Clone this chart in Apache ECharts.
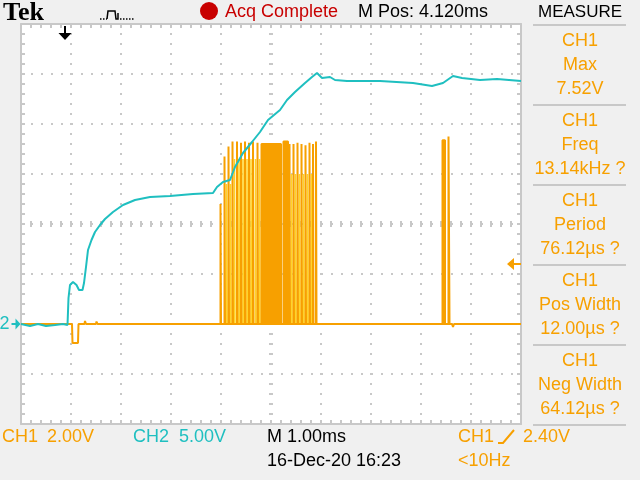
<!DOCTYPE html>
<html>
<head>
<meta charset="utf-8">
<script src="https://cdn.jsdelivr.net/npm/echarts@6/dist/echarts.min.js"></script>
<style>
  html, body { margin: 0; padding: 0; background: #f0f0f0; }
  #chart { width: 640px; height: 480px; }
</style>
</head>
<body>
<div id="chart"></div>
<script>
// time: ms from the left edge of the screen (1.00 ms/div, 10 div)
// CH1: volts (2.00 V/div), CH2: volts (5.00 V/div), both grounds 2 div above the bottom

// CH2 (cyan) supply trace
const ch2Time = [0.00, 0.18, 0.34, 0.50, 0.68, 0.84, 0.93, 0.95, 0.98, 1.04, 1.11, 1.16, 1.23, 1.26, 1.30, 1.34, 1.41, 1.48,
  1.58, 1.68, 1.84, 2.04, 2.28, 2.58, 2.98, 3.44, 3.84, 3.92, 4.04, 4.18, 4.28, 4.44, 4.62, 4.78, 4.94, 5.18, 5.32,
  5.48, 5.68, 5.82, 5.92, 6.02, 6.18, 6.28, 6.52, 7.18, 7.84, 8.22, 8.44, 8.64, 8.82, 9.18, 9.52, 10.00]
const ch2Volt = [0.0, -0.2, 0.0, -0.2, -0.1, 0.0, -0.1, 2.6, 3.9, 4.2, 3.9, 3.4, 3.4, 4.1, 5.7, 7.4, 8.4, 9.2,
  9.9, 10.5, 11.2, 11.9, 12.4, 12.7, 12.8, 13.0, 13.1, 13.7, 14.2, 14.4, 15.7, 17.1, 18.2, 19.2, 20.4, 21.4, 22.4,
  23.2, 24.1, 24.7, 25.1, 24.6, 24.7, 24.4, 24.3, 24.3, 24.1, 23.8, 24.1, 24.8, 24.6, 24.4, 24.5, 24.3]

// CH1 (orange) idle level with the small glitch after power up
const ch1Time = [0, 1.02, 1.03, 1.14, 1.15, 1.27, 1.28, 1.30, 1.50, 1.51, 1.53, 8.62, 8.64, 8.66, 10]
const ch1Volt = [0, 0, -0.76, -0.76, 0, 0, 0.12, 0, 0, 0.1, 0, 0, -0.12, 0, 0]

// CH1 pulse burst: start (ms), width (ms), top (V)
const burstStart = [3.99, 4.07, 4.15, 4.23, 4.32, 4.40, 4.48, 4.56, 4.64, 4.73, 4.81, 5.25,
  5.37, 5.45, 5.53, 5.61, 5.69, 5.77, 5.84, 5.90, 8.43, 8.55]
const burstWidth = [0.01, 0.01, 0.01, 0.01, 0.01, 0.01, 0.01, 0.01, 0.01, 0.01, 0.39, 0.09,
  0.01, 0.01, 0.01, 0.01, 0.01, 0.01, 0.01, 0.01, 0.05, 0.02]
const burstTop = [4.8, 6.7, 7.1, 7.3, 7.3, 7.25, 7.3, 7.25, 7.3, 7.25, 7.2, 7.3,
  7.2, 7.2, 7.25, 7.2, 7.15, 7.25, 7.2, 7.3, 7.35, 7.5]

// dimmer (aliased) CH1 pulses drawn in yellow between the bright ones
const aliasStart = [4.11, 4.19, 4.27, 4.36, 4.44, 4.52, 4.60, 4.69, 4.77, 5.41, 5.49, 5.57, 5.65, 5.73, 5.81]
const aliasTop = [5.6, 5.6, 6.6, 6.6, 6.6, 6.6, 6.6, 6.6, 6.6, 6.0, 6.0, 6.0, 6.0, 6.0, 6.0]
const aliasWidth = 0.01

const trigPos = 0.88   // ms
const trigLevel = 2.40 // V

const measureNames = ['Max', 'Freq', 'Period', 'Pos Width', 'Neg Width']
const measureValues = ['7.52V', '13.14kHz ?', '76.12µs ?', '12.00µs ?', '64.12µs ?']

const ORANGE = '#f7a000'
const YELLOW = '#ffd428'
const CYAN = '#1fbfc0'
const RED = '#c80000'
const GRID = '#c8c8c8'
const FONT = "'Liberation Sans', Arial, sans-serif"

function pulses(start, width, top) {
  const out = []
  start.forEach((t, i) => {
    const w = Array.isArray(width) ? width[i] : width
    out.push([t, 0], [t, top[i]], [t + w, top[i]], [t + w, 0])
  })
  return out
}

const tick = { color: GRID, width: 2 }
function frameAxis(pos, extra) {
  return Object.assign({
    type: 'value',
    position: pos,
    axisLine: { onZero: false, lineStyle: { color: GRID, width: 2 } },
    axisTick: { inside: true, length: 4, lineStyle: tick },
    minorTick: { show: true, splitNumber: 5, length: 4, lineStyle: tick },
    axisLabel: { show: false },
    splitLine: { show: false },
    axisPointer: { show: false },
  }, extra)
}
function centerAxis(pos, inside, len, extra) {
  return Object.assign({
    type: 'value',
    position: pos,
    axisLine: { onZero: true, onZeroAxisIndex: 2, lineStyle: { color: 'rgba(0,0,0,0)' } },
    axisTick: { inside, length: len, lineStyle: tick },
    minorTick: { show: true, splitNumber: 5, length: len, lineStyle: tick },
    axisLabel: { show: false },
    splitLine: { show: false },
    axisPointer: { show: false },
  }, extra)
}

function txt(text, x, y, fill, size, extra) {
  return {
    type: 'text', x, y, silent: true,
    style: Object.assign({
      text, fill, fontSize: size || 18, fontFamily: FONT,
      align: 'left', verticalAlign: 'middle', textAlign: 'left', textVerticalAlign: 'middle',
    }, extra || {}),
  }
}
function hline(x1, x2, y, color) {
  return { type: 'line', silent: true, shape: { x1, y1: y, x2, y2: y }, style: { stroke: color || GRID, lineWidth: 2 } }
}

const graphics = [
  // header
  txt('Tek', 3, 13, '#000', 26, { fontFamily: "'Liberation Serif', 'Times New Roman', serif", fontWeight: 'bold' }),
  { type: 'polyline', silent: true, shape: { points: [[100, 19], [107, 19]] }, style: { stroke: '#000', lineWidth: 1.5, lineDash: [1.5, 1.5], fill: null } },
  { type: 'polyline', silent: true, shape: { points: [[107, 19], [108, 11], [115, 11], [116, 19], [118, 19], [118, 13]] }, style: { stroke: '#000', lineWidth: 1.5, fill: null } },
  { type: 'polyline', silent: true, shape: { points: [[120, 19], [135, 19]] }, style: { stroke: '#000', lineWidth: 1.5, lineDash: [1.5, 1.5], fill: null } },
  { type: 'circle', silent: true, shape: { cx: 209, cy: 11, r: 9 }, style: { fill: RED } },
  txt('Acq Complete', 225, 12.5, RED),
  txt('M Pos: 4.120ms', 358, 12.5, '#000'),
  txt('MEASURE', 580, 12.5, '#000', 17, { align: 'center', textAlign: 'center' }),
  hline(533, 626, 25),
  // footer
  txt('CH1', 2, 437, ORANGE), txt('2.00V', 47, 437, ORANGE),
  txt('CH2', 133, 437, CYAN), txt('5.00V', 179, 437, CYAN),
  txt('M 1.00ms', 267, 437, '#000'),
  txt('16-Dec-20 16:23', 267, 461, '#000'),
  txt('CH1', 458, 437, ORANGE),
  { type: 'polyline', silent: true, shape: { points: [[498, 443], [503, 443], [514, 430]] }, style: { stroke: ORANGE, lineWidth: 2, fill: null } },
  txt('2.40V', 523, 437, ORANGE),
  txt('<10Hz', 458, 461, ORANGE),
]
// measurement panel
measureNames.forEach((name, i) => {
  const y0 = 41 + i * 80
  const c = { align: 'center', textAlign: 'center' }
  graphics.push(txt('CH1', 580, y0, ORANGE, 18, c))
  graphics.push(txt(name, 580, y0 + 24, ORANGE, 18, c))
  graphics.push(txt(measureValues[i], 580, y0 + 48, ORANGE, 18, c))
  graphics.push(hline(533, 626, 105 + i * 80))
})

const chart = echarts.init(document.getElementById('chart'))
chart.setOption({
  animation: false,
  backgroundColor: '#f0f0f0',
  grid: {
    left: 21, top: 24, width: 500, height: 400,
    show: true, backgroundColor: '#ffffff', borderWidth: 0,
    containLabel: false, outerBoundsMode: 'none',
  },
  xAxis: [
    frameAxis('bottom', {
      min: 0, max: 10, interval: 1,
      splitLine: { show: true, lineStyle: { color: GRID, width: 2, type: [2, 8], dashOffset: 1 } },
    }),
    frameAxis('top', { min: 0, max: 10, interval: 1 }),
    { type: 'value', min: -5, max: 5, show: false },
    centerAxis('bottom', true, 3, { min: 0, max: 10, interval: 1 }),
    centerAxis('bottom', false, 3, { min: 0, max: 10, interval: 1 }),
  ],
  yAxis: [
    frameAxis('left', {
      min: -4, max: 12, interval: 2,
      splitLine: { show: true, lineStyle: { color: GRID, width: 2, type: [2, 8], dashOffset: 0 } },
    }),
    { type: 'value', min: -10, max: 30, show: false },
    { type: 'value', min: -4, max: 4, show: false },
    frameAxis('right', { min: -4, max: 12, interval: 2 }),
    centerAxis('left', true, 2, { min: -4, max: 12, interval: 2 }),
    centerAxis('left', false, 2, { min: -4, max: 12, interval: 2 }),
  ],
  series: [
    {
      name: 'CH1 alias', type: 'line', xAxisIndex: 0, yAxisIndex: 0, z: 2, silent: true,
      symbol: 'none', data: pulses(aliasStart, aliasWidth, aliasTop),
      lineStyle: { color: YELLOW, width: 1.5 },
    },
    {
      name: 'CH1', type: 'line', xAxisIndex: 0, yAxisIndex: 0, z: 3, silent: true,
      symbol: 'none', data: ch1Time.map((t, i) => [t, ch1Volt[i]]),
      lineStyle: { color: ORANGE, width: 2 },
    },
    {
      name: 'CH1 burst', type: 'line', xAxisIndex: 0, yAxisIndex: 0, z: 3, silent: true,
      symbol: 'none', data: pulses(burstStart, burstWidth, burstTop),
      lineStyle: { color: ORANGE, width: 2 },
      areaStyle: { color: ORANGE, opacity: 1, origin: 'auto' },
      markPoint: {
        silent: true,
        data: [
          {
            coord: [trigPos, 12], symbol: 'path://M5.5,0 L7.5,0 L7.5,7 L13,7 L6.5,14 L0,7 L5.5,7 Z',
            symbolSize: [13, 14], symbolOffset: [0, 9], symbolKeepAspect: false,
            itemStyle: { color: '#000' }, label: { show: false },
          },
          {
            coord: [10, trigLevel], symbol: 'path://M0,6 L7,0 L7,5 L14,5 L14,7 L7,7 L7,12 Z',
            symbolSize: [14, 12], symbolOffset: [-7, 0], symbolKeepAspect: false,
            itemStyle: { color: ORANGE }, label: { show: false },
          },
        ],
      },
    },
    {
      name: 'CH2', type: 'line', xAxisIndex: 0, yAxisIndex: 1, z: 4, silent: true,
      symbol: 'none', data: ch2Time.map((t, i) => [t, ch2Volt[i]]),
      lineStyle: { color: CYAN, width: 2 },
      markPoint: {
        silent: true,
        data: [{
          coord: [0, 0], symbol: 'path://M0,4.5 L4,4.5 L4,0 L9,5.5 L4,11 L4,6.5 L0,6.5 Z',
          symbolSize: [9, 11], symbolOffset: [-5, 0], symbolKeepAspect: false,
          itemStyle: { color: CYAN },
          label: { show: true, position: 'left', distance: 2, formatter: '2', color: CYAN, fontSize: 18, fontFamily: FONT },
        }],
      },
    },
  ],
  graphic: graphics,
})
</script>
</body>
</html>
